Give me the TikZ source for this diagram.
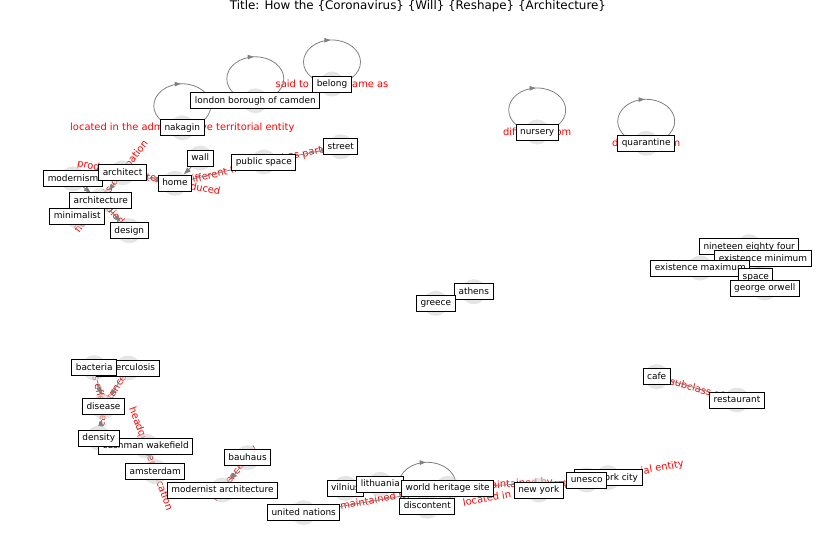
\documentclass[tikz,border=0pt]{standalone}
\usepackage{fontspec}
\setmainfont{DejaVu Sans}
\usetikzlibrary{arrows.meta,decorations.markings}
\pgfdeclarelayer{elabels}
\pgfdeclarelayer{edges}
\pgfdeclarelayer{boxes}
\pgfsetlayers{elabels,edges,main,boxes}
\tikzset{
  gnode/.style={circle, fill=black!17, fill opacity=0.6, draw=none, minimum size=25pt, inner sep=0pt},
  lbl/.style={draw=black, line width=0.9pt, fill=white, text=black,
    font=\fontsize{8.95}{10}\selectfont, inner xsep=4pt, inner ysep=3.3pt,
    text height=7.2pt, text depth=2.2pt},
  elbl/.style={text=red, font=\fontsize{9.9}{11}\selectfont, inner sep=1pt},
  elbls/.style={elbl, sloped, midway},
  gedge/.style={draw=black!50, line width=0.8pt, -{Triangle[length=7pt,width=5pt]}},
  selfloop/.style={draw=black!50, line width=0.8pt, postaction={decorate},
    decoration={markings, mark=at position 0.49 with {\arrow{Triangle[length=6pt,width=4.5pt]}}}},
}
\begin{document}
\begin{tikzpicture}[x=1pt, y=-1pt]
\useasboundingbox (0,0) rectangle (837,559);

\node[font=\fontsize{11.9}{14}\selectfont, anchor=base] (title) at (418,9.6)
  {Title: How the \{Coronavirus\} \{Will\} \{Reshape\} \{Architecture\}};

% graph nodes
\node[gnode] (belong) at (332,84) {};
\node[gnode] (camden) at (255.3,100.8) {};
\node[gnode] (nakagin) at (182.3,127.8) {};
\node[gnode] (nursery) at (537.2,132) {};
\node[gnode] (quarantine) at (646.2,143.3) {};
\node[gnode] (wall) at (200.2,158) {};
\node[gnode] (street) at (340.8,146.8) {};
\node[gnode] (pubspace) at (263.8,162) {};
\node[gnode] (home) at (175,183.3) {};
\node[gnode] (architect) at (122.5,172.8) {};
\node[gnode] (modernism) at (73,178.8) {};
\node[gnode] (architecture) at (100.8,200.7) {};
\node[gnode] (minimalist) at (77.3,216) {};
\node[gnode] (design) at (129.3,230.8) {};
\node[gnode] (nineteen) at (749.2,246.7) {};
\node[gnode] (exmin) at (763,258.7) {};
\node[gnode] (exmax) at (700.3,268) {};
\node[gnode] (space) at (755.8,276.7) {};
\node[gnode] (orwell) at (764.7,288) {};
\node[gnode] (athens) at (473.8,291.7) {};
\node[gnode] (greece) at (435.8,303.3) {};
\node[gnode] (tuberculosis) at (128,368) {};
\node[gnode] (bacteria) at (94.2,367.7) {};
\node[gnode] (disease) at (103.5,406.8) {};
\node[gnode] (cushman) at (145.8,446) {};
\node[gnode] (density) at (98.8,438) {};
\node[gnode] (amsterdam) at (155.3,471.7) {};
\node[gnode] (bauhaus) at (247.5,457.7) {};
\node[gnode] (modarch) at (222.5,490) {};
\node[gnode] (unations) at (303.7,512.7) {};
\node[gnode] (vilnius) at (345.5,488.3) {};
\node[gnode] (lithuania) at (380.3,484.3) {};
\node[gnode] (whs) at (447.7,488.3) {};
\node[gnode] (discontent) at (427.3,506.3) {};
\node[gnode] (newyork) at (538.8,490) {};
\node[gnode] (nyc) at (608,477.7) {};
\node[gnode] (unesco) at (586.7,480) {};
\node[gnode] (cafe) at (656.7,376.7) {};
\node[gnode] (restaurant) at (737,400) {};

% relation labels
\begin{pgfonlayer}{elabels}
\node[elbl] (l-belong) at (belong) {said to be the same as};
\node[elbl] (l-nakagin) at (nakagin) {located in the administrative territorial entity};
\node[elbl] (l-nursery) at (nursery) {different from};
\node[elbl] (l-quarantine) at (quarantine) {different from};
\path (architect) -- node[elbls] (l-ah) {product or material produced} (home);
\path (architect) -- node[elbls] (l-aa) {field of this occupation} (architecture);
\path (architecture) -- node[elbls] (l-ad) {studied by} (design);
\path (home) -- node[elbls] (l-hp) {different from} (pubspace);
\path (pubspace) -- node[elbls] (l-ps) {has part} (street);
\path (tuberculosis) -- node[elbls] (l-td) {instance of} (disease);
\path (bacteria) -- node[elbls] (l-bd) {has effect} (disease);
\path (density) -- node[elbls] (l-dd) {has cause} (disease);
\path (cushman) -- node[elbls] (l-ca) {headquarters location} (amsterdam);
\path (bauhaus) -- node[elbls] (l-bm) {influenced by} (modarch);
\path (whs) -- node[elbls] (l-wu) {maintained by} (unations);
\path (whs) -- node[elbls] (l-we) {maintained by} (unesco);
\path (nyc) -- node[elbls] (l-nn) {located in the administrative territorial entity} (newyork);
\path (cafe) -- node[elbls] (l-cr) {subclass of} (restaurant);
\end{pgfonlayer}

% relations
\begin{pgfonlayer}{edges}
\draw[selfloop] (belong.center) arc[start angle=90, end angle=450, x radius=28.5, y radius=22];
\draw[selfloop] (camden.center) arc[start angle=90, end angle=450, x radius=28.5, y radius=22];
\draw[selfloop] (nakagin.center) arc[start angle=90, end angle=450, x radius=28.5, y radius=22];
\draw[selfloop] (nursery.center) arc[start angle=90, end angle=450, x radius=28.5, y radius=22];
\draw[selfloop] (quarantine.center) arc[start angle=90, end angle=450, x radius=28.5, y radius=22];
\draw[selfloop] (discontent.center) arc[start angle=90, end angle=450, x radius=28.5, y radius=22];
\draw[gedge] (architect) -- (home);
\draw[gedge] (architect) -- (architecture);
\draw[gedge] (modernism) -- (architecture);
\draw[gedge] (minimalist) -- (architecture);
\draw[gedge] (architecture) -- (design);
\draw[gedge] (wall) -- (home);
\draw[gedge] (home) -- (pubspace);
\draw[gedge] (pubspace) -- (street);
\draw[gedge] (tuberculosis) -- (disease);
\draw[gedge] (bacteria) -- (disease);
\draw[gedge] (density) -- (disease);
\draw[gedge] (cushman) -- (amsterdam);
\draw[gedge] (bauhaus) -- (modarch);
\draw[gedge] (whs) -- (unations);
\draw[gedge] (whs) -- (unesco);
\draw[gedge] (nyc) -- (newyork);
\draw[gedge] (vilnius) -- (lithuania);
\draw[gedge] (athens) -- (greece);
\draw[gedge] (cafe) -- (restaurant);
\draw[gedge] (nineteen) -- (orwell);
\draw[gedge] (exmin) -- (space);
\draw[gedge] (exmax) -- (space);
\end{pgfonlayer}

% node names
\begin{pgfonlayer}{boxes}
\node[lbl] (belong-t) at (belong) {belong};
\node[lbl] (camden-t) at (camden) {london borough of camden};
\node[lbl] (nakagin-t) at (nakagin) {nakagin};
\node[lbl] (nursery-t) at (nursery) {nursery};
\node[lbl] (quarantine-t) at (quarantine) {quarantine};
\node[lbl] (wall-t) at (wall) {wall};
\node[lbl] (street-t) at (street) {street};
\node[lbl] (pubspace-t) at (pubspace) {public space};
\node[lbl] (home-t) at (home) {home};
\node[lbl] (modernism-t) at (modernism) {modernism};
\node[lbl] (architect-t) at (architect) {architect};
\node[lbl] (architecture-t) at (architecture) {architecture};
\node[lbl] (minimalist-t) at (minimalist) {minimalist};
\node[lbl] (design-t) at (design) {design};
\node[lbl] (nineteen-t) at (nineteen) {nineteen eighty four};
\node[lbl] (exmin-t) at (exmin) {existence minimum};
\node[lbl] (exmax-t) at (exmax) {existence maximum};
\node[lbl] (space-t) at (space) {space};
\node[lbl] (orwell-t) at (orwell) {george orwell};
\node[lbl] (athens-t) at (athens) {athens};
\node[lbl] (greece-t) at (greece) {greece};
\node[lbl] (tuberculosis-t) at (tuberculosis) {tuberculosis};
\node[lbl] (bacteria-t) at (bacteria) {bacteria};
\node[lbl] (disease-t) at (disease) {disease};
\node[lbl] (cushman-t) at (cushman) {cushman wakefield};
\node[lbl] (density-t) at (density) {density};
\node[lbl] (amsterdam-t) at (amsterdam) {amsterdam};
\node[lbl] (bauhaus-t) at (bauhaus) {bauhaus};
\node[lbl] (modarch-t) at (modarch) {modernist architecture};
\node[lbl] (unations-t) at (unations) {united nations};
\node[lbl] (vilnius-t) at (vilnius) {vilnius};
\node[lbl] (lithuania-t) at (lithuania) {lithuania};
\node[lbl] (whs-t) at (whs) {world heritage site};
\node[lbl] (discontent-t) at (discontent) {discontent};
\node[lbl] (newyork-t) at (newyork) {new york};
\node[lbl] (nyc-t) at (nyc) {new york city};
\node[lbl] (unesco-t) at (unesco) {unesco};
\node[lbl] (cafe-t) at (cafe) {cafe};
\node[lbl] (restaurant-t) at (restaurant) {restaurant};
\end{pgfonlayer}
\end{tikzpicture}
\end{document}
